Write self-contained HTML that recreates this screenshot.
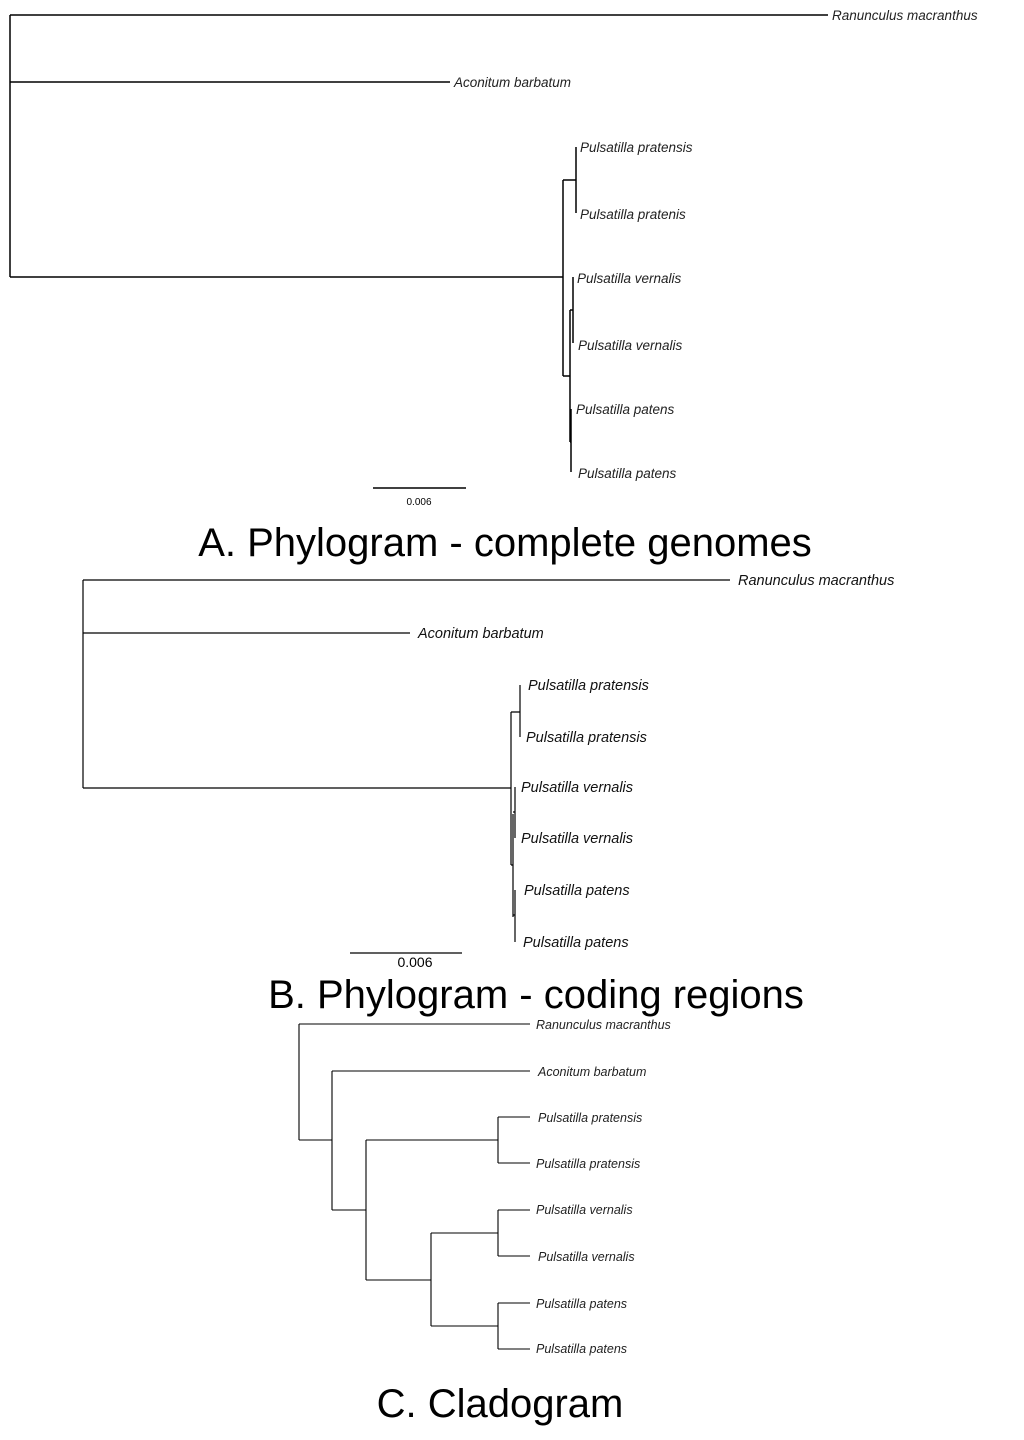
<!DOCTYPE html><html><head><style>body{margin:0;background:#fff}svg text{font-family:"Liberation Sans",sans-serif}</style></head><body>
<svg width="1024" height="1435" xmlns="http://www.w3.org/2000/svg">
<g stroke="#000" stroke-width="1.5" fill="none">
<!-- A -->
<path d="M10 15V277M10 15H828M10 82H450M10 277H563M563 180V376M563 180H576M576 147V213M563 376H570M570 310V442M570 310H573M573 277V343M570 442H571M571 409V472M373 488H466"/>
<!-- B -->
<path d="M83 580V788M83 580H730M83 633H410M83 788H511M511 712V865M511 712H520M520 685V737M511 865H513M513 814V917M513 812H515M515 787V838M513 915H515M515 890V942M350 953H462" stroke-width="1.2"/>
<!-- C -->
<path d="M299 1024V1140M299 1024H530M299 1140H332M332 1071V1210M332 1071H530M332 1210H366M366 1140V1280M366 1140H498M498 1117V1163M498 1117H530M498 1163H530M366 1280H431M431 1233V1326M431 1233H498M498 1210V1256M498 1210H530M498 1256H530M431 1326H498M498 1303V1349M498 1303H530M498 1349H530" stroke-width="1.1"/>
</g>
<g font-style="italic" font-size="13.5" fill="#222">
<text x="832" y="20">Ranunculus macranthus</text>
<text x="454" y="87">Aconitum barbatum</text>
<text x="580" y="152">Pulsatilla pratensis</text>
<text x="580" y="219">Pulsatilla pratenis</text>
<text x="577" y="283">Pulsatilla vernalis</text>
<text x="578" y="350">Pulsatilla vernalis</text>
<text x="576" y="414">Pulsatilla patens</text>
<text x="578" y="478">Pulsatilla patens</text>
</g>
<text x="419" y="505" font-size="10" text-anchor="middle">0.006</text>
<text x="505" y="556" font-size="40" text-anchor="middle">A. Phylogram - complete genomes</text>
<g font-style="italic" font-size="14.5" fill="#111">
<text x="738" y="585">Ranunculus macranthus</text>
<text x="418" y="638">Aconitum barbatum</text>
<text x="528" y="690">Pulsatilla pratensis</text>
<text x="526" y="742">Pulsatilla pratensis</text>
<text x="521" y="792">Pulsatilla vernalis</text>
<text x="521" y="843">Pulsatilla vernalis</text>
<text x="524" y="895">Pulsatilla patens</text>
<text x="523" y="947">Pulsatilla patens</text>
</g>
<text x="415" y="967" font-size="14" text-anchor="middle">0.006</text>
<text x="536" y="1008" font-size="40" text-anchor="middle">B. Phylogram - coding regions</text>
<g font-style="italic" font-size="12.5" fill="#222">
<text x="536" y="1029">Ranunculus macranthus</text>
<text x="538" y="1076">Aconitum barbatum</text>
<text x="538" y="1122">Pulsatilla pratensis</text>
<text x="536" y="1168">Pulsatilla pratensis</text>
<text x="536" y="1214">Pulsatilla vernalis</text>
<text x="538" y="1261">Pulsatilla vernalis</text>
<text x="536" y="1308">Pulsatilla patens</text>
<text x="536" y="1353">Pulsatilla patens</text>
</g>
<text x="500" y="1417" font-size="40" text-anchor="middle">C. Cladogram</text>
</svg>
</body></html>
